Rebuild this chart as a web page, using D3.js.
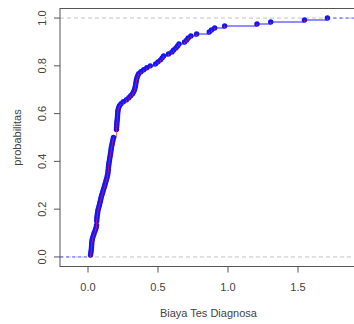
<!DOCTYPE html>
<html>
<head>
<meta charset="utf-8">
<script src="https://cdn.jsdelivr.net/npm/d3@7"></script>
<style>
  html, body { margin: 0; padding: 0; background: #fff; }
  svg { display: block; }
  text { font-family: "Liberation Sans", Arial, sans-serif; }
</style>
</head>
<body>
<svg id="chart" width="354" height="324"></svg>
<script>
// Observed sorted values of "Biaya Tes Diagnosa" (n = 120), read from the ECDF
const biaya = [
  0.018, 0.020, 0.022, 0.024, 0.025, 0.026, 0.027, 0.028, 0.031, 0.035,
  0.040, 0.044, 0.050, 0.055, 0.059, 0.061, 0.062, 0.062, 0.063, 0.064,
  0.066, 0.068, 0.070, 0.073, 0.077, 0.081, 0.084, 0.088, 0.091, 0.094,
  0.098, 0.103, 0.107, 0.111, 0.116, 0.120, 0.124, 0.128, 0.132, 0.136,
  0.139, 0.142, 0.143, 0.145, 0.146, 0.148, 0.149, 0.152, 0.154, 0.156,
  0.159, 0.161, 0.163, 0.165, 0.167, 0.170, 0.173, 0.176, 0.179, 0.182,
  0.203, 0.203, 0.203, 0.203, 0.204, 0.205, 0.206, 0.207, 0.209, 0.210,
  0.211, 0.212, 0.213, 0.215, 0.219, 0.225, 0.236, 0.252, 0.275, 0.292,
  0.305, 0.318, 0.326, 0.332, 0.336, 0.339, 0.341, 0.344, 0.346, 0.350,
  0.355, 0.362, 0.378, 0.398, 0.420, 0.445, 0.483, 0.500, 0.518, 0.530,
  0.540, 0.575, 0.600, 0.612, 0.628, 0.640, 0.650, 0.690, 0.705, 0.716,
  0.735, 0.776, 0.866, 0.882, 0.905, 0.976, 1.207, 1.305, 1.546, 1.710
];
const xTicks = [0, 0.5, 1.0, 1.5];
const xTickLabels = ["0.0", "0.5", "1.0", "1.5"];
const yTicks = [0, 0.2, 0.4, 0.6, 0.8, 1.0];
const yTickLabels = ["0.0", "0.2", "0.4", "0.6", "0.8", "1.0"];
const xTitle = "Biaya Tes Diagnosa";
const yTitle = "probabilitas";

(function () {
const svg = d3.select("#chart");
const pL = 60, pR = 356.8, pT = 8.5, pB = 266.5;

const x = d3.scaleLinear().domain([-0.2, 1.92]).range([pL, pR]);
const y = d3.scaleLinear().domain([-0.04, 1.04]).range([pB, pT]);

// ECDF knots
const n = biaya.length;
const counts = d3.rollups(biaya, v => v.length, d => d).sort((a, b) => a[0] - b[0]);
let cum = 0;
const knots = counts.map(([v, c]) => { const prev = cum; cum += c; return { x: v, y0: prev / n, y1: cum / n }; });

svg.append("clipPath").attr("id", "clip")
  .append("rect").attr("x", pL).attr("y", pT).attr("width", pR - pL).attr("height", pB - pT);
const g = svg.append("g").attr("clip-path", "url(#clip)");

// reference dashed lines at 0 and 1
[0, 1].forEach(v => {
  g.append("line")
    .attr("x1", pL).attr("x2", pR)
    .attr("y1", y(v)).attr("y2", y(v))
    .attr("stroke", "#c4c4c4").attr("stroke-width", 1)
    .attr("stroke-dasharray", "4,3");
});

// left and right extensions (blue dashed)
g.append("line")
  .attr("x1", pL).attr("x2", x(knots[0].x))
  .attr("y1", y(0)).attr("y2", y(0))
  .attr("stroke", "#5050ff").attr("stroke-width", 1)
  .attr("stroke-dasharray", "3,3");
g.append("line")
  .attr("x1", x(knots[knots.length - 1].x)).attr("x2", pR)
  .attr("y1", y(1)).attr("y2", y(1))
  .attr("stroke", "#5050ff").attr("stroke-width", 1)
  .attr("stroke-dasharray", "3,3");

// horizontal steps
g.selectAll("line.h").data(knots.slice(0, -1)).enter().append("line")
  .attr("class", "h")
  .attr("x1", (d) => x(d.x))
  .attr("x2", (d, i) => x(knots[i + 1].x))
  .attr("y1", d => y(d.y1)).attr("y2", d => y(d.y1))
  .attr("stroke", "#6a6aff").attr("stroke-width", 1.6);

// points
g.selectAll("circle").data(knots).enter().append("circle")
  .attr("cx", d => x(d.x)).attr("cy", d => y(d.y1))
  .attr("r", 2.7).attr("fill", "#1414ff");

// vertical jumps (red)
g.selectAll("line.v").data(knots).enter().append("line")
  .attr("class", "v")
  .attr("x1", d => x(d.x)).attr("x2", d => x(d.x))
  .attr("y1", d => y(d.y0)).attr("y2", d => y(d.y1))
  .attr("stroke", "#ff2020").attr("stroke-width", 0.9).attr("opacity", 0.8);

// box
svg.append("rect")
  .attr("x", pL).attr("y", pT).attr("width", pR - pL).attr("height", pB - pT)
  .attr("fill", "none").attr("stroke", "#555").attr("stroke-width", 1);

// x axis ticks & labels
const xa = svg.append("g");
xTicks.forEach((t, i) => {
  xa.append("line").attr("x1", x(t)).attr("x2", x(t))
    .attr("y1", pB).attr("y2", pB + 6)
    .attr("stroke", "#555").attr("stroke-width", 1);
  xa.append("text").attr("x", x(t)).attr("y", 291)
    .attr("text-anchor", "middle").attr("font-size", 11).attr("fill", "#444")
    .text(xTickLabels[i]);
});

// y axis ticks & labels
const ya = svg.append("g");
yTicks.forEach((t, i) => {
  ya.append("line").attr("x1", pL - 6).attr("x2", pL)
    .attr("y1", y(t)).attr("y2", y(t))
    .attr("stroke", "#555").attr("stroke-width", 1);
  ya.append("text")
    .attr("transform", `translate(45.5,${y(t)}) rotate(-90)`)
    .attr("text-anchor", "middle").attr("font-size", 11).attr("fill", "#444")
    .text(yTickLabels[i]);
});

// titles
svg.append("text").attr("x", (pL + pR) / 2).attr("y", 317)
  .attr("text-anchor", "middle").attr("font-size", 11).attr("fill", "#444")
  .text(xTitle);
svg.append("text")
  .attr("transform", `translate(21,${(pT + pB) / 2}) rotate(-90)`)
  .attr("text-anchor", "middle").attr("font-size", 11).attr("fill", "#444")
  .text(yTitle);
})();
</script>
</body>
</html>
